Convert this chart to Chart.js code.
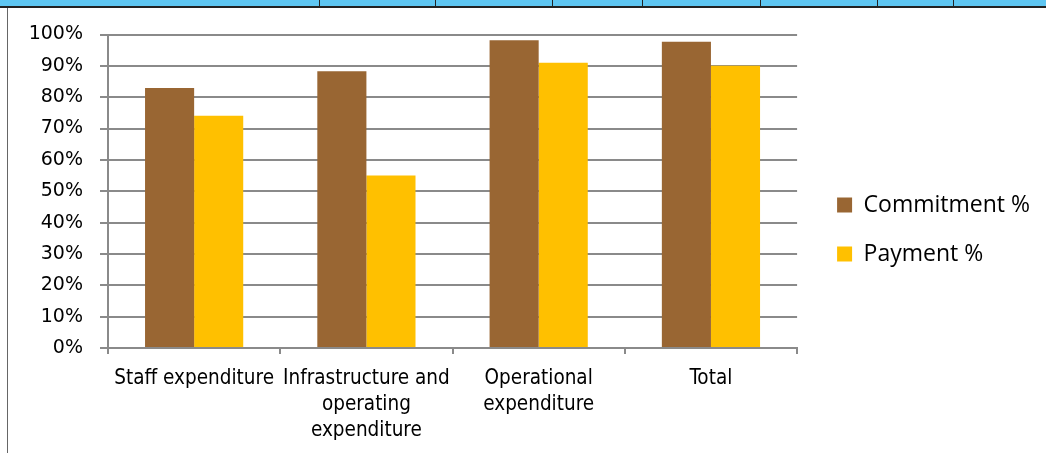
<!DOCTYPE html>
<html>
<head>
<meta charset="utf-8">
<script src="https://cdn.jsdelivr.net/npm/chart.js@4.4.1/dist/chart.umd.min.js"></script>
<style>
  html, body { margin: 0; padding: 0; background: #fff; }
  #wrap { position: relative; width: 1046px; height: 453px; overflow: hidden; }
  /* spreadsheet cell borders visible around the chart */
  #band { position: absolute; left: 0; top: 0; width: 1046px; height: 6px; background: #5ec6f2; border-bottom: 2px solid #222; }
  .sep { position: absolute; top: 0; width: 1px; height: 7px; background: #222; }
  #edge { position: absolute; left: 7px; top: 8px; width: 1px; height: 445px; background: #666; }
</style>
</head>
<body>
<div id="wrap">
  <canvas id="budgetChart" width="1046" height="453"></canvas>
  <div id="band"></div>
  <div id="edge"></div>
</div>
<script>
// Categories and series (percent of budget)
const categories = [
    'Staff expenditure',
    ['Infrastructure and', 'operating', 'expenditure'],
    ['Operational', 'expenditure'],
    'Total'
];
const commitmentPct = [82.9, 88.3, 98.2, 97.7];
const paymentPct = [74.1, 55.0, 91.0, 90.0];
const yTicks = [0, 10, 20, 30, 40, 50, 60, 70, 80, 90, 100];

// Column separators of the sheet row above the chart
const sepPositions = [319, 435, 552, 642, 760, 877, 953];
sepPositions.forEach(x => {
    const d = document.createElement('div');
    d.className = 'sep';
    d.style.left = x + 'px';
    document.getElementById('wrap').appendChild(d);
});

const gridGrey = '#8a8a8a';

const ctx = document.getElementById('budgetChart').getContext('2d');
const budgetChart = new Chart(ctx, {
    type: 'bar',
    data: {
        labels: categories,
        datasets: [
            {
                label: 'Commitment %',
                data: commitmentPct,
                backgroundColor: '#996633',
                categoryPercentage: 0.57,
                barPercentage: 1.0
            },
            {
                label: 'Payment %',
                data: paymentPct,
                backgroundColor: '#ffc000',
                categoryPercentage: 0.57,
                barPercentage: 1.0
            }
        ]
    },
    options: {
        responsive: false,
        animation: false,
        layout: {
            padding: { top: 6, left: 26, right: 6, bottom: 0 }
        },
        scales: {
            x: {
                afterFit: scale => { scale.height = 105; },
                grid: {
                    offset: true,
                    drawOnChartArea: false,
                    drawTicks: true,
                    tickLength: 6,
                    color: gridGrey,
                    lineWidth: 2
                },
                border: { color: gridGrey, width: 2 },
                ticks: {
                    color: '#000',
                    padding: 12,
                    maxRotation: 0,
                    autoSkip: false,
                    font: { family: '"DejaVu Sans Condensed", "DejaVu Sans"', size: 20.5, lineHeight: 1.27 }
                }
            },
            // empty space above the plot
            gapTop: {
                type: 'linear',
                position: 'top',
                afterFit: scale => { scale.height = 28.5; },
                grid: { display: false },
                border: { display: false },
                ticks: { display: false }
            },
            y: {
                min: 0,
                max: 100,
                afterFit: scale => { scale.width = 82; },
                afterBuildTicks: scale => { scale.ticks = yTicks.map(v => ({ value: v })); },
                grid: {
                    color: gridGrey,
                    lineWidth: 2,
                    drawTicks: true,
                    tickLength: 8
                },
                border: { color: gridGrey, width: 2 },
                ticks: {
                    color: '#000',
                    padding: 17,
                    callback: v => v + '%',
                    font: { family: '"DejaVu Sans"', size: 19 }
                }
            },
            // spacer between plot and legend
            gap: {
                type: 'linear',
                position: 'right',
                afterFit: scale => { scale.width = 14; },
                grid: { display: false },
                border: { display: false },
                ticks: { display: false }
            }
        },
        plugins: {
            legend: {
                display: true,
                position: 'right',
                align: 'center',
                maxWidth: 260,
                labels: {
                    boxWidth: 15,
                    boxHeight: 15,
                    padding: 26,
                    color: '#000',
                    font: { family: '"Open Sans"', size: 23 }
                }
            },
            tooltip: { enabled: false }
        }
    }
});
</script>
</body>
</html>
